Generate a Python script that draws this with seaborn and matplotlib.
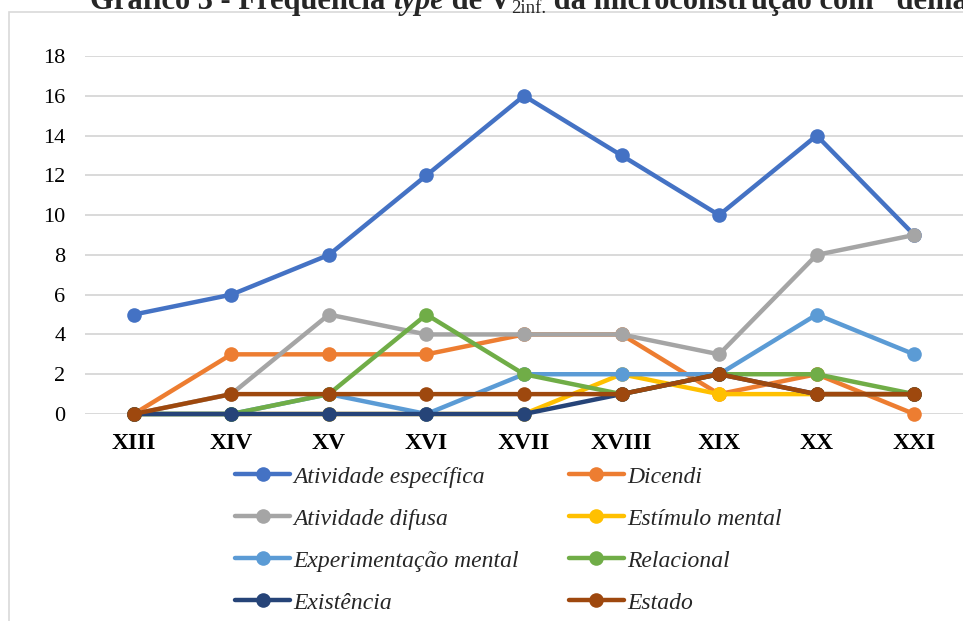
import matplotlib
matplotlib.use("Agg")
import matplotlib.pyplot as plt
import matplotlib.patches as mpatches
from matplotlib.lines import Line2D
import seaborn as sns
import pandas as pd

centuries = ["XIII", "XIV", "XV", "XVI", "XVII", "XVIII", "XIX", "XX", "XXI"]
series_names = ["Atividade específica", "Dicendi", "Atividade difusa", "Estímulo mental",
                "Experimentação mental", "Relacional", "Existência", "Estado"]
atividade_especifica = [5, 6, 8, 12, 16, 13, 10, 14, 9]
dicendi = [0, 3, 3, 3, 4, 4, 1, 2, 0]
atividade_difusa = [0, 1, 5, 4, 4, 4, 3, 8, 9]
estimulo_mental = [0, 0, 0, 0, 0, 2, 1, 1, 1]
experimentacao_mental = [0, 0, 1, 0, 2, 2, 2, 5, 3]
relacional = [0, 0, 1, 5, 2, 1, 2, 2, 1]
existencia = [0, 0, 0, 0, 0, 1, 2, 1, 1]
estado = [0, 1, 1, 1, 1, 1, 2, 1, 1]
values = [atividade_especifica, dicendi, atividade_difusa, estimulo_mental,
          experimentacao_mental, relacional, existencia, estado]
colors = ["#4472C4", "#ED7D31", "#A5A5A5", "#FFC000", "#5B9BD5", "#70AD47", "#264478", "#9E480E"]
yticks = [0, 2, 4, 6, 8, 10, 12, 14, 16, 18]

rows = []
for name, vals in zip(series_names, values):
    for i, v in enumerate(vals):
        rows.append({"x": i, "y": v, "serie": name})
df = pd.DataFrame(rows)

sns.set_theme(style="white")
plt.rcParams["font.family"] = ["Liberation Serif", "DejaVu Serif"]

fig = plt.figure(figsize=(9.63, 6.21), dpi=100)
ax = fig.add_axes([85 / 963, 1 - 414 / 621, 878 / 963, (414 - 56) / 621])

palette = dict(zip(series_names, colors))
sns.lineplot(data=df, x="x", y="y", hue="serie", hue_order=series_names, palette=palette,
             marker="o", markersize=10.5, markeredgewidth=0, linewidth=3.2, ax=ax,
             legend=False, sort=False, zorder=3)

ax.set_xlim(-0.5, len(centuries) - 0.5)
ax.set_ylim(0, 18)
ax.set_yticks(yticks)
ax.set_yticklabels([str(t) for t in yticks], fontsize=16)
ax.set_xticks(range(len(centuries)))
ax.set_xticklabels(centuries, fontsize=17, fontweight="bold")
ax.tick_params(axis="y", length=0, pad=14, colors="#000000")
ax.tick_params(axis="x", length=0, pad=13.5, colors="#000000")
ax.set_xlabel("")
ax.set_ylabel("")
for s in ax.spines.values():
    s.set_visible(False)
ax.yaxis.grid(True, color="#D9D9D9", linewidth=1.4, zorder=0)
ax.xaxis.grid(False)
ax.set_axisbelow(True)
for line in ax.lines:
    line.set_clip_on(False)

# outer chart border
fig.patches.append(mpatches.Rectangle((9 / 963, -0.05), 1.1, 1 - 12 / 621 + 0.05,
                                      transform=fig.transFigure, fill=False,
                                      edgecolor="#D9D9D9", linewidth=1.2))

# legend (column-wise order for Excel row layout)
order = [0, 2, 4, 6, 1, 3, 5, 7]
handles = [Line2D([], [], color=colors[i], marker="o", markersize=10.5, markeredgewidth=0,
                  linewidth=3.2) for i in order]
labels = [series_names[i] for i in order]
fig.legend(handles, labels, ncol=2, loc="upper left", bbox_to_anchor=(235 / 963, 1 - 466 / 621),
           frameon=False, prop={"family": "Liberation Serif", "style": "italic", "size": 17},
           handlelength=2.35, handletextpad=0.12, labelspacing=0.87, columnspacing=2.1,
           borderaxespad=0, borderpad=0)

# partially visible title at top (cut off as in the original)
fs = 22
base_y = 1 - 9 / 621
t1 = fig.text(90 / 963, base_y, "Gráfico 3 - Frequência ", fontsize=fs, fontweight="bold",
              va="baseline", ha="left")
t2 = fig.text(0, 0, "type", fontsize=fs, fontweight="bold", fontstyle="italic", va="baseline")
t3 = fig.text(0, 0, " de V", fontsize=fs, fontweight="bold", va="baseline")
t4 = fig.text(0, 0, "2inf.", fontsize=13.5, va="baseline")
t5 = fig.text(0, 0, " da microconstrução com \u201cdemais\u201d", fontsize=fs, fontweight="bold",
              va="baseline")
fig.canvas.draw()
r = fig.canvas.get_renderer()
prev = t1
for t, dy in [(t2, 0), (t3, 0), (t4, -4), (t5, 0)]:
    bb = prev.get_window_extent(r)
    x = bb.x1 / fig.bbox.width
    t.set_position((x, base_y + dy / 621))
    t.set_ha("left")
    fig.canvas.draw()
    prev = t

fig.savefig("out.png", dpi=100)
